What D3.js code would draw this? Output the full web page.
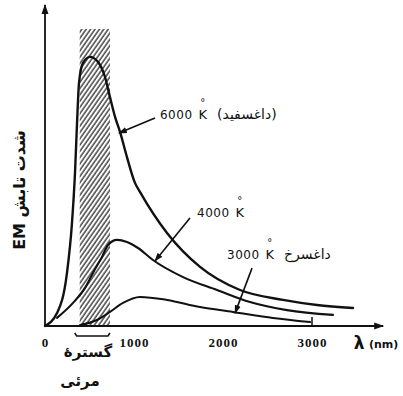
<!DOCTYPE html>
<html><head><meta charset="utf-8">
<script src="https://cdn.jsdelivr.net/npm/d3@7"></script>
<style>body{margin:0;background:#fff}svg{display:block}</style>
</head><body><svg id="c" width="403" height="396"></svg>
<script>
// ---- data (wavelength in nm, intensity in arbitrary units) ----
const lambda6000 = [0, 135, 247, 303, 337, 360, 382, 427, 506, 596, 674, 730, 787, 843, 921, 1011, 1067, 1371, 1742, 2191, 2674, 3056, 3461];
const int6000    = [0, 4.3, 17.7, 34.3, 51, 67.7, 81, 87.7, 89.7, 88, 83, 76.3, 69.7, 64.7, 56.3, 47.7, 44.7, 31, 19.7, 12, 8.7, 7, 6];
const lambda4000 = [135, 315, 449, 539, 640, 708, 809, 921, 1045, 1213, 1551, 1933, 2303, 2719, 3236];
const int4000    = [2.7, 7.7, 12.7, 17.7, 23, 27, 28.7, 28, 26, 22, 16.3, 12, 8, 5.3, 3.7];
const lambda3000 = [393, 584, 730, 876, 1067, 1371, 1742, 2112, 2562, 2978];
const int3000    = [0.3, 2, 4.7, 7.7, 9.7, 8.7, 6.3, 4.7, 2.7, 1.3];
const xTicks = [0, 1000, 2000, 3000];
const xTickLabels = ["0", "1000", "2000", "3000"];
const visibleBand = [390, 730];
const bandTop = 99;
const yLabel = "شدت تابش EM";
const xLabel = "λ";
const xUnit = "(nm)";
const visibleLabel1 = "گسترهٔ";
const visibleLabel2 = "مرئی";
const curveLabels = [
  {num: "6000", fa: "(داغسفید)", lam: 1292, I: 69, arrowFrom: [1236, 69.3], arrowTo: [831, 64.3]},
  {num: "4000", fa: "", lam: 1708, I: 36.3, arrowFrom: [1629, 36], arrowTo: [1236, 21.7]},
  {num: "3000", fa: "داغسرخ", lam: 2045, I: 22.3, arrowFrom: [2326, 19.3], arrowTo: [2135, 4.3]}
];

const svg = d3.select("#c");
const x = d3.scaleLinear().domain([0, 3000]).range([45, 312]);
const y = d3.scaleLinear().domain([0, 107]).range([326, 5]);
const ink = "#111";

const defs = svg.append("defs");
const pat = defs.append("pattern").attr("id", "hatch")
  .attr("patternUnits", "userSpaceOnUse").attr("width", 3.6).attr("height", 10)
  .attr("patternTransform", "rotate(35)");
pat.append("line").attr("x1", 1).attr("y1", 0).attr("x2", 1).attr("y2", 10)
  .attr("stroke", "#2a2a2a").attr("stroke-width", 1.3);

defs.append("marker").attr("id", "axArrow").attr("markerUnits", "userSpaceOnUse")
  .attr("viewBox", "0 0 10 8").attr("refX", 9).attr("refY", 4)
  .attr("markerWidth", 10).attr("markerHeight", 8).attr("orient", "auto")
  .append("path").attr("d", "M0,0.5 L10,4 L0,7.5 Z").attr("fill", ink);
defs.append("marker").attr("id", "annArrow").attr("markerUnits", "userSpaceOnUse")
  .attr("viewBox", "0 0 10 8").attr("refX", 9).attr("refY", 4)
  .attr("markerWidth", 9).attr("markerHeight", 7).attr("orient", "auto")
  .append("path").attr("d", "M0,0.5 L10,4 L0,7.5 Z").attr("fill", ink);

// visible band (hatched)
svg.append("rect")
  .attr("x", x(visibleBand[0])).attr("width", x(visibleBand[1]) - x(visibleBand[0]))
  .attr("y", y(bandTop)).attr("height", y(0) - y(bandTop))
  .attr("fill", "url(#hatch)");

// axes
svg.append("line").attr("x1", x(0)).attr("y1", y(0)).attr("x2", x(3800)).attr("y2", y(0))
  .attr("stroke", ink).attr("stroke-width", 1.8).attr("marker-end", "url(#axArrow)");
svg.append("line").attr("x1", x(0)).attr("y1", y(0)).attr("x2", x(0)).attr("y2", y(107))
  .attr("stroke", ink).attr("stroke-width", 1.8).attr("marker-end", "url(#axArrow)");
svg.append("line").attr("x1", x(3000)).attr("x2", x(3000)).attr("y1", y(0)).attr("y2", y(0) - 9)
  .attr("stroke", ink).attr("stroke-width", 1.5);

const ax = svg.append("g").attr("transform", `translate(0,${y(0)})`)
  .call(d3.axisBottom(x).tickValues(xTicks).tickFormat((d, i) => xTickLabels[i]).tickSize(0).tickPadding(12));
ax.select(".domain").remove();
ax.selectAll("text").attr("font-family", "Liberation Serif, serif").attr("font-weight", "bold")
  .attr("font-size", 13).attr("letter-spacing", 1).attr("fill", ink);

// x label
svg.append("text").attr("x", x(3470)).attr("y", 349).attr("font-family", "DejaVu Sans, sans-serif")
  .attr("font-weight", "bold").attr("font-size", 17).attr("fill", ink).text(xLabel);
svg.append("text").attr("x", x(3640)).attr("y", 348).attr("font-family", "DejaVu Sans, sans-serif")
  .attr("font-weight", "bold").attr("font-size", 11).attr("fill", ink).text(xUnit);

// y label
svg.append("text").attr("transform", "translate(19,190) rotate(-90)")
  .attr("text-anchor", "middle").attr("dominant-baseline", "central")
  .attr("direction", "rtl")
  .attr("font-family", "DejaVu Sans, sans-serif").attr("font-weight", "bold")
  .attr("font-size", 16).attr("fill", ink).text(yLabel);

// visible range brace + label
const bx0 = x(visibleBand[0]) - 5, bx1 = x(visibleBand[1]);
svg.append("path").attr("d", `M${bx0},333 L${bx0 + 2},336 L${bx1 - 2},336 L${bx1},333`)
  .attr("fill", "none").attr("stroke", ink).attr("stroke-width", 1.6);
svg.append("text").attr("x", 88).attr("y", 357).attr("text-anchor", "middle")
  .attr("font-family", "DejaVu Sans, sans-serif").attr("font-weight", "bold")
  .attr("font-size", 15).attr("fill", ink).text(visibleLabel1);
svg.append("text").attr("x", 80).attr("y", 386).attr("text-anchor", "middle")
  .attr("font-family", "DejaVu Sans, sans-serif").attr("font-weight", "bold")
  .attr("font-size", 15).attr("fill", ink).text(visibleLabel2);

// curves
const line = d3.line().x(d => x(d[0])).y(d => y(d[1])).curve(d3.curveMonotoneX);
[[lambda6000, int6000, 2.4], [lambda4000, int4000, 2.1], [lambda3000, int3000, 2.0]].forEach(([l, v, w]) => {
  svg.append("path").datum(l.map((d, i) => [d, v[i]]))
    .attr("d", line).attr("fill", "none").attr("stroke", ink)
    .attr("stroke-width", w).attr("stroke-linejoin", "round").attr("stroke-linecap", "round");
});

// annotations
curveLabels.forEach(c => {
  svg.append("line")
    .attr("x1", x(c.arrowFrom[0])).attr("y1", y(c.arrowFrom[1]))
    .attr("x2", x(c.arrowTo[0])).attr("y2", y(c.arrowTo[1]))
    .attr("stroke", ink).attr("stroke-width", 1.6).attr("marker-end", "url(#annArrow)");
  const t = svg.append("text").attr("x", x(c.lam)).attr("y", y(c.I))
    .attr("font-family", "DejaVu Sans, sans-serif").attr("fill", ink);
  t.append("tspan").attr("font-size", 12).attr("letter-spacing", 0.5).text(c.num);
  t.append("tspan").attr("font-size", 13).attr("dx", 6).text("K");
  const ext = t.node().getExtentOfChar(c.num.length);
  svg.append("text").attr("x", ext.x + ext.width / 2).attr("y", ext.y - 1)
    .attr("text-anchor", "middle").attr("font-family", "DejaVu Sans, sans-serif")
    .attr("font-size", 10).attr("fill", ink).text("°");
  if (c.fa) {
    svg.append("text").attr("x", ext.x + ext.width + 10).attr("y", y(c.I))
      .attr("font-family", "DejaVu Sans, sans-serif").attr("font-size", 14)
      .attr("fill", ink).text(c.fa);
  }
});
</script></body></html>
